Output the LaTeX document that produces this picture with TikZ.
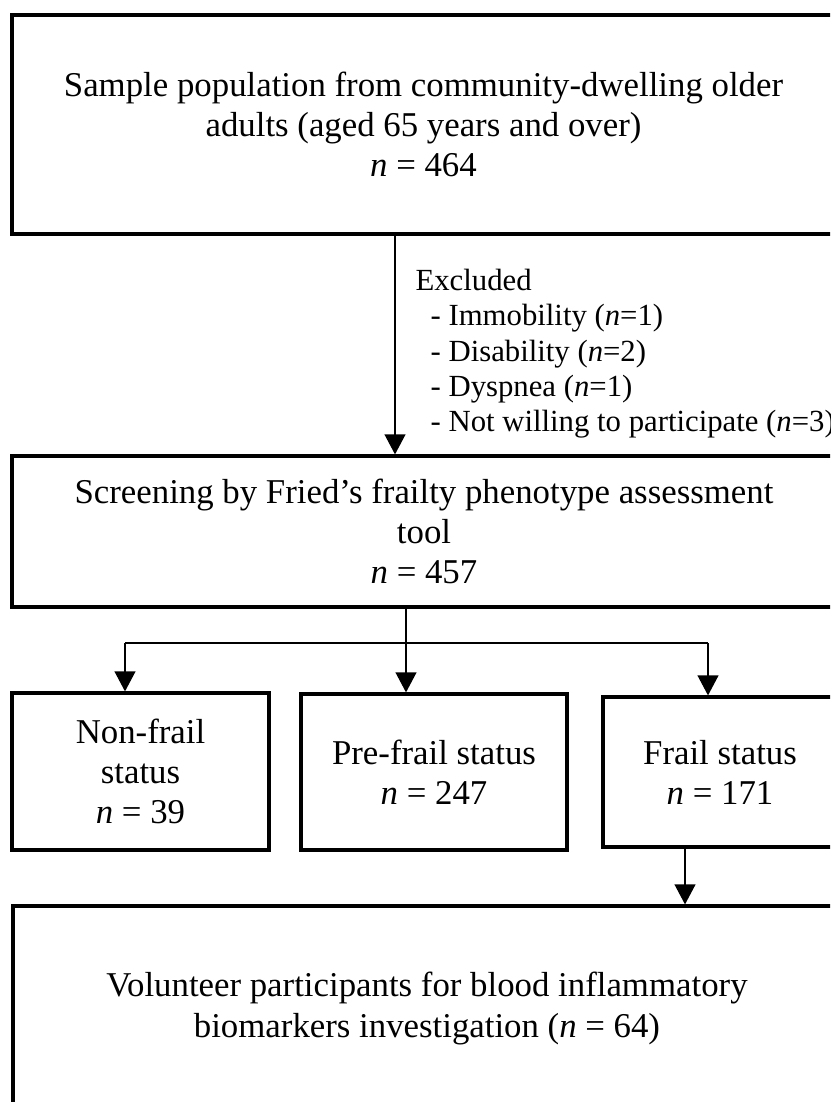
\documentclass[tikz,border=0pt]{standalone}
\usepackage{fontspec}
\setmainfont{Liberation Serif}
\usetikzlibrary{arrows.meta}
\newcommand{\pxl}{0.3448pt}
\tikzset{
  box/.style={draw, line width=1.1pt, inner sep=0pt, align=center, font=\fontsize{12}{13.8}\selectfont},
  arr/.style={line width=0.45pt, -{Triangle[length=6.9pt,width=7.2pt]}},
  conn/.style={line width=0.45pt},
  excl/.style={align=left, inner sep=0pt, font=\fontsize{10.6}{12.24}\selectfont}
}
\begin{document}
\begin{tikzpicture}[x=\pxl,y=-\pxl]
\useasboundingbox (0,0) rectangle (830,1102);
\clip (0,0) rectangle (830,1102);
\fill[white] (0,0) rectangle (830,1102);
\node[box, minimum width=823*\pxl, minimum height=219*\pxl] (sample) at (423.5,124.5)
  {Sample population from community-dwelling older\\ adults (aged 65 years and over)\\ \textit{n} = 464};
\node[box, minimum width=824*\pxl, minimum height=151*\pxl] (screen) at (424,531.5)
  {Screening by Fried’s frailty phenotype assessment\\ tool\\ \textit{n} = 457};
\node[box, minimum width=257*\pxl, minimum height=157*\pxl] (nonfrail) at (140.5,771.5)
  {Non-frail\\ status\\ \textit{n} = 39};
\node[box, minimum width=266*\pxl, minimum height=156*\pxl] (prefrail) at (434,772)
  {Pre-frail status\\ \textit{n} = 247};
\node[box, minimum width=234*\pxl, minimum height=150*\pxl] (frail) at (720,772)
  {Frail status\\ \textit{n} = 171};
\node[box, minimum width=828*\pxl, minimum height=205*\pxl] (volunteer) at (427,1008.5)
  {Volunteer participants for blood inflammatory\\ biomarkers investigation (\textit{n} = 64)};
% exclusions
\coordinate (exclx) at (395,232);
\draw[arr] (sample.south -| exclx) -- (screen.north -| exclx);
\node[excl, anchor=base west] (excl) at (415,432)
  {Excluded\\
   \hspace*{5.2pt}- Immobility (\textit{n}=1)\\
   \hspace*{5.2pt}- Disability (\textit{n}=2)\\
   \hspace*{5.2pt}- Dyspnea (\textit{n}=1)\\
   \hspace*{5.2pt}- Not willing to participate (\textit{n}=3)};
% split into frailty groups
\coordinate (jleft) at (125,643);
\coordinate (jmid) at (406,643);
\coordinate (jright) at (708,643);
\draw[conn] (screen.south -| jmid) -- (jmid);
\draw[conn] (jleft) -- (jright);
\draw[arr] (jleft) -- (nonfrail.north -| jleft);
\draw[arr] (jmid) -- (prefrail.north -| jmid);
\draw[arr] (jright) -- (frail.north -| jright);
\coordinate (frx) at (685,850);
\draw[arr] (frail.south -| frx) -- (volunteer.north -| frx);
\end{tikzpicture}
\end{document}
